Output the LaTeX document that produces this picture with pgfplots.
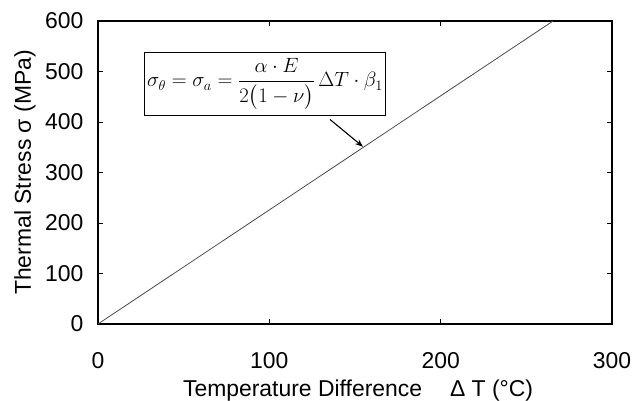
\documentclass[border=0pt]{standalone}
\usepackage{fontspec}
\setmainfont{Liberation Sans}
\usepackage{amsmath}
\usepackage{pgfplots}
\pgfplotsset{compat=1.18}
\usetikzlibrary{arrows.meta}
\begin{document}
\begin{tikzpicture}
\begin{axis}[
  scale only axis,
  width=514bp, height=303bp,
  xmin=0, xmax=300, ymin=0, ymax=600,
  xtick={0,100,200,300}, ytick={0,100,...,600},
  tick align=inside,
  major tick length=5bp,
  axis line style={line width=1.1pt},
  tick style={line width=0.6pt, black},
  ticklabel style={font=\fontsize{23}{27}\selectfont},
  /pgf/number format/assume math mode=true,
  xticklabel style={yshift=-25bp},
  yticklabel style={xshift=-11bp},
  xlabel={Temperature Difference\hspace{28bp}Δ T (°C)},
  ylabel={Thermal Stress σ (MPa)},
  every axis x label/.style={at={(axis description cs:0.506,-0.22)}, anchor=center, font=\fontsize{23}{27}\selectfont},
  every axis y label/.style={at={(axis description cs:-0.142,0.5)}, rotate=90, anchor=center, font=\fontsize{23}{27}\selectfont},
  clip=false,
]
\addplot[line width=0.8pt, black!70, no marks] coordinates {(0,0) (265.6,600)};
\node[draw=black, line width=1pt, fill=white, inner xsep=3bp, inner ysep=6bp, font=\fontsize{20}{24}\selectfont]
  at (axis cs:97.5,475) {$\displaystyle \sigma_\theta=\sigma_a=\frac{\alpha\cdot E}{2\bigl(1-\nu\bigr)}\,\Delta T\cdot\beta_1$};
\draw[-{Stealth[length=8bp,width=6bp]}, line width=1.1pt] (axis cs:135.4,405) -- (axis cs:154.7,351);
\end{axis}
\pgfresetboundingbox
\path (-98bp,-77bp) rectangle (534bp,324bp);
\end{tikzpicture}
\end{document}
